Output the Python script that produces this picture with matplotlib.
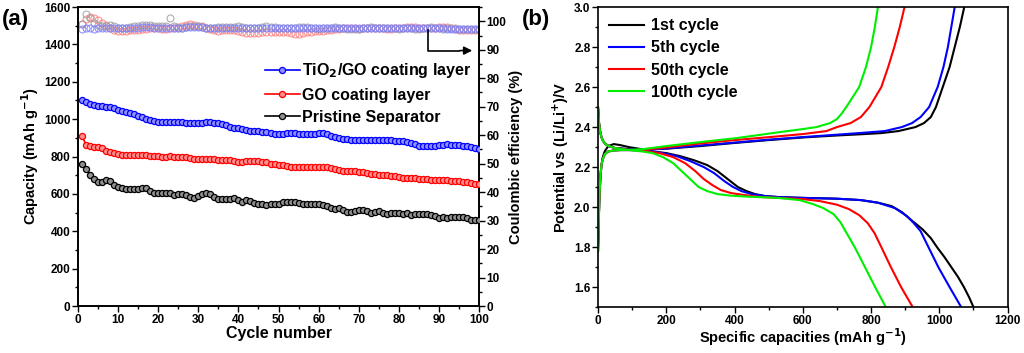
import numpy as np
import matplotlib
matplotlib.use("Agg")
import matplotlib.pyplot as plt
from matplotlib.ticker import MultipleLocator, FormatStrFormatter

plt.rcParams['font.family'] = ['Liberation Sans', 'DejaVu Sans']
plt.rcParams['font.weight'] = 'bold'
plt.rcParams['axes.labelweight'] = 'bold'
plt.rcParams['mathtext.default'] = 'bf'

# ---------------- Panel (a) data ----------------
cycles = list(range(1, 101))

cap_tio2_go = [1100, 1090, 1080, 1075, 1070, 1068, 1065, 1065, 1060, 1050,
               1045, 1038, 1033, 1025, 1018, 1010, 1003, 996, 990, 985,
               983, 983, 985, 986, 986, 985, 980, 977, 978, 980,
               982, 984, 984, 982, 980, 975, 967, 960, 955, 950,
               945, 940, 937, 936, 935, 933, 930, 926, 922, 920,
               922, 925, 926, 924, 922, 920, 920, 922, 923, 924,
               925, 920, 910, 903, 898, 895, 893, 890, 888, 888,
               888, 888, 887, 887, 887, 886, 886, 886, 885, 884,
               882, 878, 873, 866, 858, 855, 854, 855, 858, 862,
               864, 865, 864, 862, 860, 858, 855, 852, 848, 842]

cap_go = [910, 862, 855, 852, 852, 845, 832, 825, 818, 812,
          810, 810, 809, 808, 808, 807, 806, 805, 804, 802,
          800, 800, 801, 799, 797, 796, 795, 790, 788, 787,
          786, 787, 786, 785, 784, 784, 783, 782, 775, 772,
          772, 775, 776, 776, 774, 773, 770, 762, 758, 757,
          755, 750, 745, 743, 745, 746, 746, 746, 745, 744,
          743, 742, 740, 735, 730, 725, 723, 722, 721, 719,
          715, 711, 707, 704, 703, 702, 700, 698, 695, 690,
          687, 685, 684, 683, 681, 679, 678, 677, 676, 675,
          674, 673, 671, 669, 667, 664, 661, 658, 655, 651]

cap_pristine = [760, 735, 700, 680, 665, 665, 672, 668, 650, 635,
                630, 627, 625, 628, 625, 633, 630, 615, 605, 603,
                603, 607, 603, 592, 600, 598, 593, 585, 580, 590,
                598, 605, 602, 585, 575, 573, 573, 575, 578, 565,
                556, 565, 562, 550, 548, 546, 538, 545, 545, 548,
                555, 558, 556, 558, 552, 548, 548, 547, 545, 545,
                540, 535, 525, 520, 525, 515, 505, 505, 510, 512,
                513, 510, 500, 503, 508, 498, 495, 497, 500, 500,
                490, 497, 488, 490, 492, 492, 490, 485, 482, 472,
                475, 470, 476, 478, 478, 477, 470, 460, 460, 462]

ce_tio2_go = [97.4, 97.5, 97.5, 97.4, 97.5, 97.5, 97.6, 97.5, 97.5, 97.6,
              97.6, 97.7, 97.7, 97.8, 97.8, 97.9, 97.9, 97.9, 97.8, 97.8,
              97.7, 97.7, 97.6, 97.6, 97.7, 97.8, 97.9, 98.0, 98.0, 97.9,
              97.9, 97.8, 97.8, 97.7, 97.6, 97.5, 97.6, 97.6, 97.7, 97.6,
              97.6, 97.5, 97.5, 97.6, 97.6, 97.7, 97.6, 97.6, 97.6, 97.7,
              97.8, 97.8, 97.7, 97.6, 97.5, 97.6, 97.6, 97.6, 97.6, 97.6,
              97.7, 97.7, 97.7, 97.6, 97.6, 97.6, 97.6, 97.7, 97.7, 97.6,
              97.6, 97.6, 97.6, 97.6, 97.6, 97.6, 97.6, 97.5, 97.5, 97.6,
              97.6, 97.6, 97.5, 97.5, 97.5, 97.6, 97.6, 97.6, 97.6, 97.5,
              97.5, 97.4, 97.4, 97.4, 97.3, 97.3, 97.3, 97.3, 97.3, 97.3]

ce_go = [99.0, 100.8, 101.5, 101.3, 100.5, 99.5, 98.8, 97.5, 96.8, 96.5,
         96.6, 96.5, 96.8, 97.0, 97.1, 97.2, 97.4, 97.6, 97.6, 97.5,
         97.4, 97.3, 97.5, 97.6, 97.8, 98.3, 98.8, 99.0, 98.8, 98.5,
         98.2, 97.8, 97.4, 97.0, 96.7, 96.8, 97.0, 97.1, 96.8, 96.5,
         96.2, 96.0, 95.8, 95.8, 96.0, 96.3, 96.4, 96.3, 96.2, 96.3,
         96.4, 96.2, 95.8, 95.5, 95.7, 96.0, 96.3, 96.4, 96.5, 96.5,
         96.6, 96.8, 97.0, 97.2, 97.4, 97.5, 97.6, 97.6, 97.5, 97.4,
         97.5, 97.6, 97.7, 97.7, 97.6, 97.5, 97.4, 97.4, 97.5, 97.7,
         97.8, 98.0, 98.1, 98.0, 97.8, 97.6, 97.5, 97.6, 97.8, 98.0,
         98.1, 97.9, 97.6, 97.3, 97.1, 97.0, 96.9, 96.9, 97.0, 97.0]

ce_pristine = [99.0, 102.5, 101.0, 99.5, 98.8, 98.5, 98.5, 98.6, 98.3, 97.8,
               97.5, 97.6, 98.0, 98.3, 98.5, 98.6, 98.7, 98.6, 98.5, 98.4,
               98.3, 98.5, 101.0, 98.4, 98.0, 97.8, 97.9, 98.2, 98.4, 98.3,
               98.0, 97.7, 97.5, 97.7, 98.0, 98.1, 98.0, 97.9, 98.1, 98.2,
               98.0, 97.8, 97.6, 97.7, 97.8, 98.0, 98.2, 98.1, 97.9, 97.8,
               97.7, 97.6, 97.6, 97.7, 97.9, 98.0, 97.9, 97.7, 97.5, 97.4,
               97.5, 97.7, 97.8, 97.9, 97.8, 97.6, 97.4, 97.3, 97.2, 97.4,
               97.6, 97.8, 97.9, 97.8, 97.6, 97.5, 97.6, 97.7, 97.6, 97.4,
               97.5, 97.7, 97.5, 97.2, 97.4, 97.6, 97.8, 97.9, 97.7, 97.5,
               97.4, 97.5, 97.6, 97.5, 97.3, 97.2, 97.2, 97.3, 97.3, 97.3]

cap_labels = ['TiO$_2$/GO coating layer', 'GO coating layer', 'Pristine Separator']

# ---------------- Panel (b) data ----------------
cycle_labels = ['1st cycle', '5th cycle', '50th cycle', '100th cycle']
cycle_colors = ['#000000', '#0000ff', '#ff0000', '#00ee00']

# discharge branches (capacity, voltage)
dis_cap = [
    [0, 3, 6, 10, 15, 22, 32, 50, 100, 150, 200, 240, 280, 320, 350, 380, 410, 435, 460, 490, 530, 600, 700, 770, 820, 860, 890, 920, 950, 975, 993, 1015, 1035, 1055, 1072, 1087, 1100],
    [0, 3, 6, 10, 15, 22, 32, 50, 100, 150, 190, 230, 270, 310, 340, 370, 396, 420, 450, 490, 530, 600, 700, 770, 820, 870, 905, 925, 945, 968, 997, 1030, 1047, 1064],
    [0, 3, 6, 10, 15, 22, 32, 50, 100, 140, 180, 220, 255, 285, 310, 335, 360, 390, 430, 480, 540, 600, 650, 700, 735, 765, 790, 810, 830, 858, 888, 922],
    [0, 3, 6, 10, 15, 22, 32, 50, 100, 130, 160, 190, 220, 245, 270, 295, 320, 350, 390, 440, 500, 533, 590, 630, 660, 690, 710, 725, 752, 782, 812, 843],
]
dis_v = [
    [2.50, 2.42, 2.38, 2.35, 2.33, 2.315, 2.305, 2.295, 2.288, 2.28, 2.27, 2.255, 2.235, 2.21, 2.18, 2.14, 2.10, 2.08, 2.065, 2.055, 2.05, 2.046, 2.042, 2.035, 2.022, 2.005, 1.975, 1.932, 1.89, 1.845, 1.80, 1.75, 1.70, 1.65, 1.60, 1.55, 1.50],
    [2.50, 2.42, 2.38, 2.35, 2.33, 2.315, 2.305, 2.295, 2.288, 2.28, 2.27, 2.255, 2.23, 2.20, 2.17, 2.13, 2.10, 2.08, 2.065, 2.055, 2.05, 2.046, 2.042, 2.035, 2.022, 1.995, 1.955, 1.92, 1.88, 1.80, 1.70, 1.60, 1.55, 1.50],
    [2.50, 2.42, 2.38, 2.35, 2.33, 2.315, 2.305, 2.295, 2.285, 2.28, 2.27, 2.25, 2.22, 2.18, 2.14, 2.11, 2.085, 2.07, 2.06, 2.05, 2.045, 2.04, 2.03, 2.012, 1.99, 1.96, 1.92, 1.87, 1.80, 1.70, 1.60, 1.50],
    [2.50, 2.42, 2.38, 2.35, 2.33, 2.315, 2.305, 2.295, 2.283, 2.278, 2.27, 2.25, 2.22, 2.18, 2.14, 2.10, 2.08, 2.065, 2.057, 2.052, 2.048, 2.045, 2.035, 2.015, 1.995, 1.965, 1.925, 1.88, 1.80, 1.70, 1.60, 1.50],
]

# charge branches (capacity, voltage)
chg_cap = [
    [0, 2, 4, 7, 10, 14, 20, 30, 46, 65, 90, 133, 200, 300, 396, 500, 600, 700, 780, 830, 880, 930, 955, 975, 990, 1010, 1030, 1045, 1060, 1073],
    [0, 2, 4, 7, 10, 14, 20, 30, 46, 65, 90, 133, 200, 300, 396, 500, 600, 700, 780, 840, 890, 920, 945, 970, 995, 1012, 1025, 1035, 1045],
    [0, 2, 4, 7, 10, 14, 20, 30, 46, 65, 90, 133, 200, 300, 400, 503, 600, 669, 700, 740, 770, 795, 830, 850, 868, 884, 898],
    [0, 2, 4, 7, 10, 14, 20, 30, 46, 65, 90, 133, 200, 300, 406, 470, 533, 600, 640, 680, 700, 715, 735, 765, 785, 800, 811, 820],
]
chg_v = [
    [1.78, 1.92, 2.05, 2.15, 2.21, 2.25, 2.28, 2.305, 2.315, 2.31, 2.30, 2.288, 2.292, 2.305, 2.32, 2.335, 2.348, 2.358, 2.365, 2.37, 2.38, 2.40, 2.42, 2.45, 2.50, 2.60, 2.70, 2.80, 2.90, 3.00],
    [1.78, 1.92, 2.05, 2.15, 2.21, 2.24, 2.265, 2.278, 2.283, 2.285, 2.285, 2.285, 2.293, 2.308, 2.322, 2.337, 2.35, 2.362, 2.372, 2.38, 2.40, 2.42, 2.45, 2.50, 2.60, 2.70, 2.80, 2.90, 3.00],
    [1.78, 1.92, 2.05, 2.15, 2.21, 2.24, 2.265, 2.278, 2.283, 2.285, 2.285, 2.286, 2.298, 2.318, 2.335, 2.35, 2.365, 2.38, 2.40, 2.42, 2.45, 2.50, 2.60, 2.70, 2.80, 2.90, 3.00],
    [1.78, 1.92, 2.05, 2.15, 2.21, 2.24, 2.265, 2.278, 2.283, 2.285, 2.286, 2.29, 2.305, 2.325, 2.345, 2.36, 2.375, 2.39, 2.40, 2.42, 2.44, 2.47, 2.52, 2.60, 2.70, 2.80, 2.90, 3.00],
]

# ---------------- Figure ----------------
fig = plt.figure(figsize=(10.24, 3.53), dpi=100)
ax1 = fig.add_axes([0.0762, 0.1331, 0.3916, 0.847])
ax2 = ax1.twinx()
axb = fig.add_axes([0.584, 0.130, 0.400, 0.850])

tick_fs = 8.5
lab_fs = 10.5

# CE (right axis)
ce_colors = ['#8080ff', '#ff8080', '#a0a0a0']
for vals, c in zip([ce_go, ce_pristine, ce_tio2_go], [ce_colors[1], ce_colors[2], ce_colors[0]]):
    ax2.plot(cycles, vals, linestyle='none', marker='o', markersize=5,
             markerfacecolor='none', markeredgecolor=c, markeredgewidth=0.8, alpha=0.85)
ax2.set_ylim(0, 105)
ax2.yaxis.set_major_locator(MultipleLocator(10))
ax2.yaxis.set_minor_locator(MultipleLocator(5))
ax2.set_ylabel('Coulombic efficiency (%)', fontsize=lab_fs, labelpad=2)

# capacity
cap_series = [cap_tio2_go, cap_go, cap_pristine]
main_cols = ['#0000ff', '#ff0000', '#000000']
face_cols = ['#9090ff', '#ff9090', '#909090']
handles = []
for vals, mc, fc, lab in zip(cap_series, main_cols, face_cols, cap_labels):
    h, = ax1.plot(cycles, vals, color=mc, linewidth=1.2, marker='o', markersize=4.4,
                  markerfacecolor=fc, markeredgecolor=mc, markeredgewidth=0.9, label=lab,
                  zorder=3)
    handles.append(h)
ax1.set_zorder(ax2.get_zorder() + 1)
ax1.patch.set_visible(False)

ax1.set_xlim(0, 100)
ax1.set_ylim(0, 1600)
ax1.xaxis.set_major_locator(MultipleLocator(10))
ax1.xaxis.set_minor_locator(MultipleLocator(5))
ax1.yaxis.set_major_locator(MultipleLocator(200))
ax1.yaxis.set_minor_locator(MultipleLocator(100))
ax1.set_xlabel('Cycle number', fontsize=11.5, labelpad=0)
ax1.set_ylabel('Capacity (mAh g$^{-1}$)', fontsize=lab_fs, labelpad=2)

for a in (ax1, ax2, axb):
    a.tick_params(which='major', direction='out', length=4, width=1, labelsize=tick_fs, pad=1.5)
    a.tick_params(which='minor', direction='out', length=2.5, width=1)
    for s in a.spines.values():
        s.set_linewidth(1.2)
    for t in a.get_xticklabels() + a.get_yticklabels():
        t.set_fontweight('bold')

leg = ax1.legend(handles=handles, loc='upper right', bbox_to_anchor=(1.005, 0.85),
                 frameon=False, fontsize=11.5, handlelength=2.2, handletextpad=0.15,
                 labelspacing=0.45, borderaxespad=0.2)
for t in leg.get_texts():
    t.set_fontweight('bold')

# arrow pointing to the right axis
ax2.plot([87.3, 87.3, 95], [97.0, 89.7, 89.7], color='black', linewidth=1.2)
ax2.annotate('', xy=(99.0, 89.7), xytext=(94.5, 89.7),
             arrowprops=dict(arrowstyle='-|>', color='black', lw=1.2, mutation_scale=12))

fig.text(0.002, 0.975, '(a)', fontsize=16, fontweight='bold', va='top', ha='left')

# ---------------- Panel (b) ----------------
lines_b = []
for i in range(4):
    axb.plot(dis_cap[i], dis_v[i], color=cycle_colors[i], linewidth=1.5)
    h, = axb.plot(chg_cap[i], chg_v[i], color=cycle_colors[i], linewidth=1.5, label=cycle_labels[i])
    lines_b.append(h)
axb.set_xlim(0, 1200)
axb.set_ylim(1.5, 3.0)
axb.xaxis.set_major_locator(MultipleLocator(200))
axb.xaxis.set_minor_locator(MultipleLocator(100))
axb.yaxis.set_major_locator(MultipleLocator(0.2))
axb.yaxis.set_minor_locator(MultipleLocator(0.1))
axb.yaxis.set_major_formatter(FormatStrFormatter('%.1f'))
for t in axb.get_xticklabels() + axb.get_yticklabels():
    t.set_fontweight('bold')
axb.set_xlabel('Specific capacities (mAh g$^{-1}$)', fontsize=lab_fs, labelpad=0)
axb.set_ylabel('Potential vs (Li/Li$^{+}$)/V', fontsize=lab_fs, labelpad=2)
legb = axb.legend(handles=lines_b, loc='upper left', frameon=False, fontsize=11.5,
                  handlelength=2.2, handletextpad=0.4, labelspacing=0.45,
                  borderaxespad=0.3, bbox_to_anchor=(0.0, 1.0))
for t in legb.get_texts():
    t.set_fontweight('bold')

fig.text(0.510, 0.975, '(b)', fontsize=16, fontweight='bold', va='top', ha='left')

fig.savefig('out.png', dpi=100)
